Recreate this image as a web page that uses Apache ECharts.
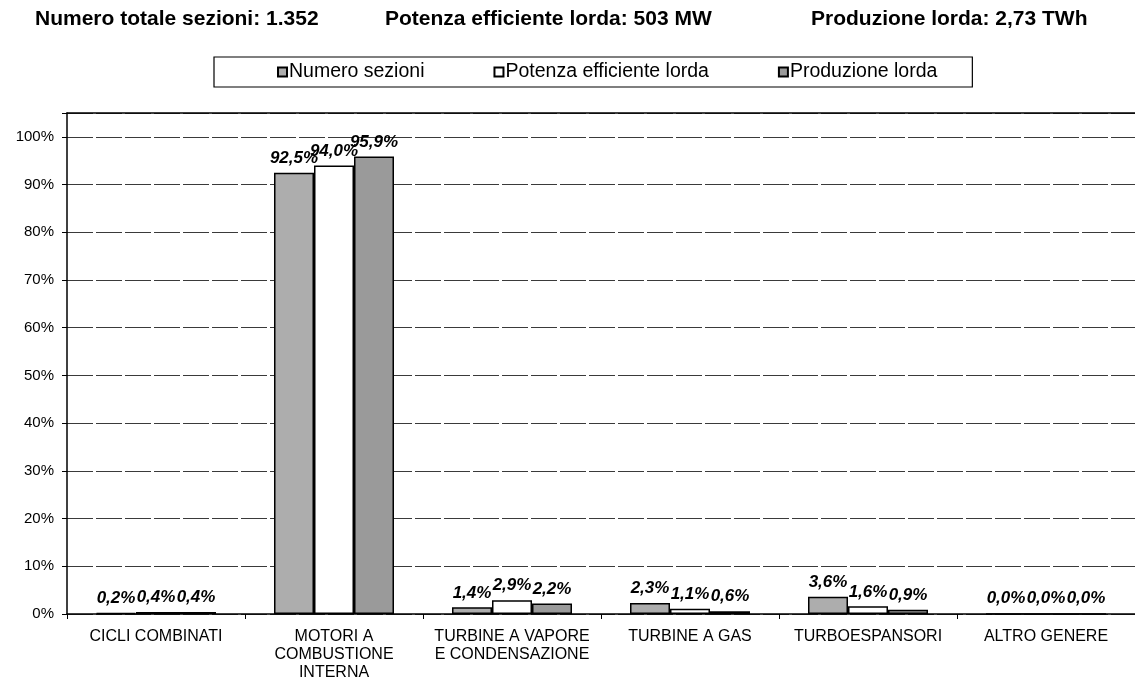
<!DOCTYPE html>
<html>
<head>
<meta charset="utf-8">
<script src="https://cdn.jsdelivr.net/npm/echarts@6/dist/echarts.min.js"></script>
<style>
  html, body { margin: 0; padding: 0; background: #fff; }
  #chart { width: 1135px; height: 682px; }
</style>
</head>
<body>
<div id="chart"></div>
<script>
// Quote percentuali per tecnologia
const categories = [
  'CICLI COMBINATI',
  'MOTORI A\nCOMBUSTIONE\nINTERNA',
  'TURBINE A VAPORE\nE CONDENSAZIONE',
  'TURBINE A GAS',
  'TURBOESPANSORI',
  'ALTRO GENERE'
];
const seriesNames = ['Numero sezioni', 'Potenza efficiente lorda', 'Produzione lorda'];
const numeroSezioni = [0.2, 92.5, 1.4, 2.3, 3.6, 0.0];
const potenzaLorda = [0.4, 94.0, 2.9, 1.1, 1.6, 0.0];
const produzioneLorda = [0.4, 95.9, 2.2, 0.6, 0.9, 0.0];
const headerTexts = [
  'Numero totale sezioni: 1.352',
  'Potenza efficiente lorda: 503 MW',
  'Produzione lorda: 2,73 TWh'
];
const yTicks = [0, 10, 20, 30, 40, 50, 60, 70, 80, 90, 100];

const FONT = '"Liberation Sans", Arial, sans-serif';
const fmtPct = v => v.toFixed(1).replace('.', ',') + '%';

const chart = echarts.init(document.getElementById('chart'), null, { renderer: 'canvas' });

const barLabel = {
  show: true,
  position: 'top',
  distance: 6,
  fontFamily: FONT,
  fontSize: 17,
  fontStyle: 'italic',
  fontWeight: 'bold',
  color: '#000',
  formatter: p => fmtPct(p.value)
};

function barSeries(name, data, fill) {
  return {
    name: name,
    type: 'bar',
    data: data,
    barWidth: 40,
    barGap: '0%',
    itemStyle: { color: fill, borderColor: '#000', borderWidth: 1.5 },
    label: barLabel,
    emphasis: { disabled: true }
  };
}

const headerStyle = { fontFamily: FONT, fontSize: 21, fontWeight: 'bold', color: '#000' };

chart.setOption({
  animation: false,
  backgroundColor: '#fff',
  title: [
    { text: headerTexts[0], left: 35, top: 9, padding: 0, textStyle: headerStyle },
    { text: headerTexts[1], left: 385, top: 9, padding: 0, textStyle: headerStyle },
    { text: headerTexts[2], left: 811, top: 9, padding: 0, textStyle: headerStyle }
  ],
  legend: {
    data: seriesNames,
    left: 214,
    top: 57,
    orient: 'horizontal',
    padding: [5, 35, 5, 63],
    itemGap: 69,
    itemWidth: 9,
    itemHeight: 9,
    borderColor: '#000',
    borderWidth: 1.2,
    icon: 'rect',
    textStyle: { fontFamily: FONT, fontSize: 19.5, color: '#000', padding: [0, 0, 0, -3] }
  },
  grid: { left: 67, right: 0, top: 113, bottom: 68, containLabel: false },
  xAxis: [
    {
      type: 'category',
      data: categories,
      axisLine: { lineStyle: { color: '#000', width: 1.5 } },
      axisTick: { show: true, length: 5, lineStyle: { color: '#000' } },
      axisLabel: {
        fontFamily: FONT, fontSize: 16, color: '#000',
        lineHeight: 18, margin: 14, interval: 0, align: 'center'
      },
      splitLine: { show: false }
    },
    {
      type: 'category',
      position: 'top',
      data: categories,
      axisLine: { show: true, lineStyle: { color: '#000', width: 1.5 } },
      axisTick: { show: false },
      axisLabel: { show: false }
    }
  ],
  yAxis: {
    type: 'value',
    min: 0,
    max: 105,
    interval: 10,
    axisLine: { show: true, lineStyle: { color: '#000', width: 1.5 } },
    axisTick: { show: true, length: 5, lineStyle: { color: '#000' } },
    axisLabel: {
      fontFamily: FONT, fontSize: 15, color: '#000', margin: 13,
      formatter: v => (yTicks.indexOf(v) >= 0 ? v + '%' : '')
    },
    splitLine: { show: true, lineStyle: { color: '#3a3a3a', width: 1, type: [26, 3] } }
  },
  series: [
    barSeries(seriesNames[0], numeroSezioni, '#adadad'),
    barSeries(seriesNames[1], potenzaLorda, '#ffffff'),
    barSeries(seriesNames[2], produzioneLorda, '#9a9a9a')
  ]
});
</script>
</body>
</html>
